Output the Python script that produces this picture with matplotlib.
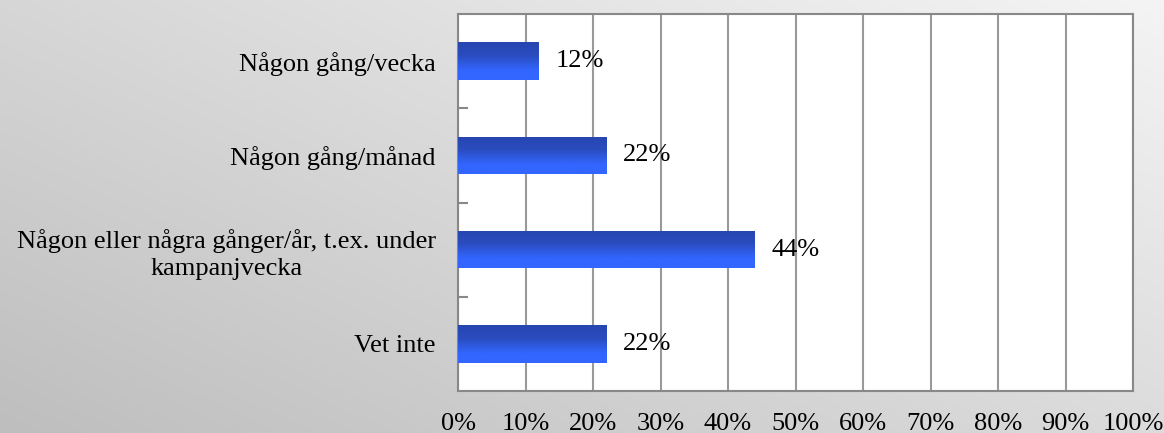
import numpy as np
import matplotlib
matplotlib.use("Agg")
import matplotlib.pyplot as plt
from matplotlib.colors import LinearSegmentedColormap
from matplotlib.patches import Rectangle

categories = ["Någon gång/vecka", "Någon gång/månad",
              "Någon eller några gånger/år, t.ex. under\nkampanjvecka", "Vet inte"]
values = [12, 22, 44, 22]
xticks = list(range(0, 101, 10))
xtick_labels = [f"{t}%" for t in xticks]

plt.rcParams['font.family'] = ['Liberation Serif', 'DejaVu Serif']
FS = 19

fig = plt.figure(figsize=(11.64, 4.33), dpi=100)

# background gradient (light top-right, darker bottom-left)
bg = fig.add_axes([0, 0, 1, 1], zorder=-10)
yy, xx = np.mgrid[0:1:200j, 0:1:400j]
shade = 0.55 * xx + 0.45 * (1 - yy)
bg_cmap = LinearSegmentedColormap.from_list("bg", ["#bebebe", "#f4f4f4"])
bg.imshow(shade, cmap=bg_cmap, aspect='auto', extent=[0, 1, 0, 1], origin='upper')
bg.axis('off')

ax = fig.add_axes([458 / 1164, (433 - 391) / 433, (1133 - 458) / 1164, (391 - 14) / 433])
ax.set_facecolor('white')

n = len(categories)
ypos = np.arange(n)[::-1]
bar_h = 0.4
bar_cmap = LinearSegmentedColormap.from_list(
    "bar", [(0, "#3366ff"), (0.25, "#3366ff"), (0.65, "#2a4cbf"), (1, "#2646b0")])
grad = np.linspace(0, 1, 100).reshape(-1, 1)

for y, v in zip(ypos, values):
    rect = Rectangle((0, y - bar_h / 2), v, bar_h, facecolor='none', edgecolor='none')
    ax.add_patch(rect)
    im = ax.imshow(grad, cmap=bar_cmap, aspect='auto', origin='lower',
                   extent=[0, v, y - bar_h / 2, y + bar_h / 2], zorder=3)
    im.set_clip_path(rect)
    ax.text(v + 2.5, y, f"{v}%", va='center', ha='left', fontsize=FS, color='black', zorder=4)

ax.set_xlim(0, 100)
ax.set_ylim(-0.5, n - 0.5)
ax.set_xticks(xticks)
ax.set_xticklabels(xtick_labels, fontsize=FS)
ax.tick_params(axis='x', length=0, pad=16)
ax.xaxis.grid(True, color='#999999', linewidth=1.5, zorder=1)
ax.set_axisbelow(True)

ax.set_yticks(ypos)
ax.set_yticklabels(categories, fontsize=FS, multialignment='center', linespacing=1.3)
ax.tick_params(axis='y', which='major', length=0, pad=16)
ax.set_yticks(np.arange(0.5, n - 1, 1), minor=True)
ax.tick_params(axis='y', which='minor', direction='in', length=7, color='#888888', width=1.5)

for s in ax.spines.values():
    s.set_color('#888888')
    s.set_linewidth(1.5)

fig.savefig("out.png", dpi=100)
